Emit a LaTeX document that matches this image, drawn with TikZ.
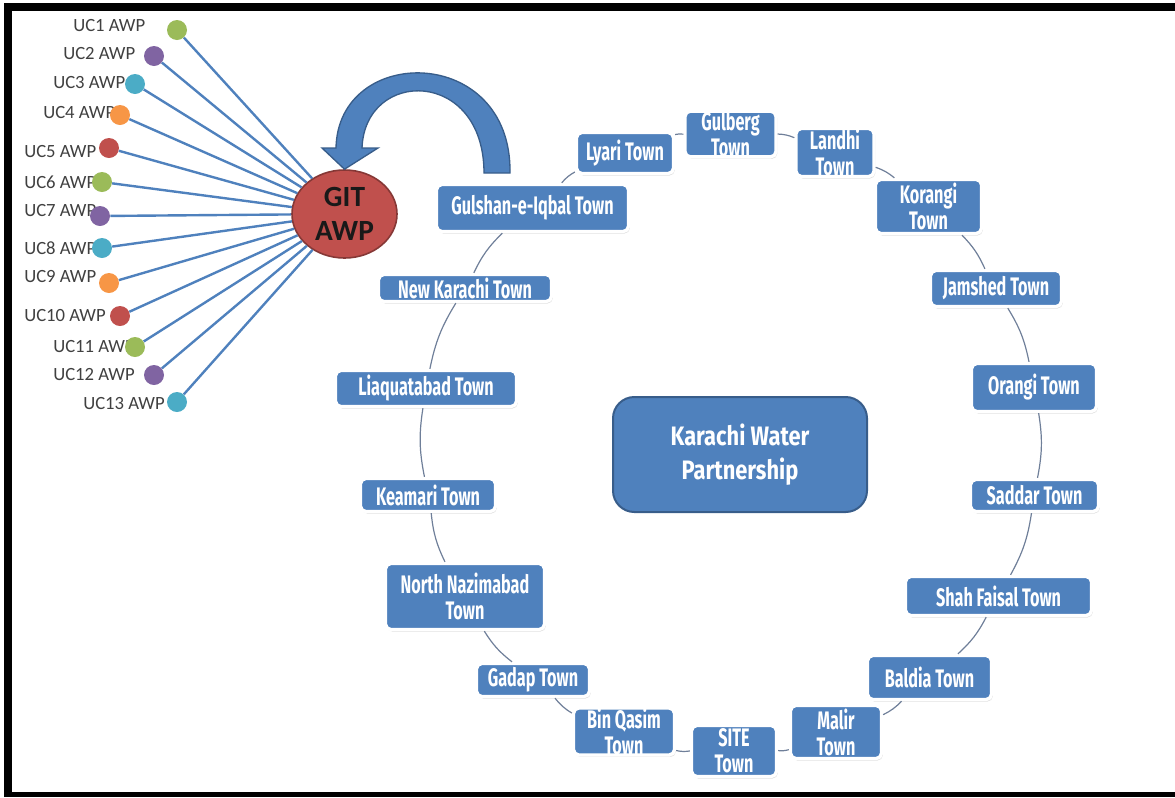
\documentclass[tikz,border=0pt]{standalone}
\usepackage{fontspec}
\setmainfont{Carlito}
\newfontfamily\townfont{Fira Sans}[FakeStretch=0.64]
\newfontfamily\hubfont{Fira Sans}[FakeStretch=0.82]
\usetikzlibrary{shapes.geometric,shadows}

\definecolor{kwblue}{HTML}{4F81BD}
\definecolor{kwdark}{HTML}{385D8A}
\definecolor{ucgreen}{HTML}{9BBB59}
\definecolor{ucpurple}{HTML}{8064A2}
\definecolor{uccyan}{HTML}{4BACC6}
\definecolor{ucorange}{HTML}{F79646}
\definecolor{ucred}{HTML}{C0504D}
\definecolor{ringgray}{HTML}{6F7F99}

\tikzset{
  town/.style={rectangle, rounded corners=4pt, fill=kwblue, draw=white, line width=2.5pt,
    text=white, inner sep=0pt, align=center,
    font=\townfont\bfseries\fontsize{19}{19.5}\selectfont,
    drop shadow={opacity=0.25, shadow xshift=1pt, shadow yshift=-1.5pt}},
  boxsize/.style 2 args={minimum width=#1*0.75pt, minimum height=#2*0.75pt},
  ucdot/.style={circle, minimum size=15pt, inner sep=0pt},
  uclabel/.style={anchor=west, inner sep=0pt, text=black!75, font=\fontsize{14}{16}\selectfont},
  spoke/.style={draw=kwblue, line width=1.8pt},
  ringline/.style={draw=ringgray, line width=0.9pt},
}

\begin{document}
\begin{tikzpicture}[x=0.75pt, y=-0.75pt]
		\useasboundingbox (0,0) rectangle (1175,797);

		% 枠
		\fill[black] (4,3) rectangle (1175,11);
		\fill[black] (4,3) rectangle (12,797);
		\fill[black] (4,792) rectangle (1175,797);

		% 町
		\node[town, boxsize={91}{45}] (gulberg) at (730.5,134) {Gulberg\\Town};
		\node[town, boxsize={78}{48}] (landhi) at (835,152.5) {Landhi\\Town};
		\node[town, boxsize={106}{54}] (korangi) at (928.5,206.5) {Korangi\\Town};
		\node[town, boxsize={131}{36}] (jamshed) at (996,288.5) {Jamshed Town};
		\node[town, boxsize={125}{48}] (orangi) at (1034,387.5) {Orangi Town};
		\node[town, boxsize={128}{32}] (saddar) at (1034.5,495.5) {Saddar Town};
		\node[town, boxsize={186}{39}] (shahfaisal) at (998.5,596) {Shah Faisal Town};
		\node[town, boxsize={124}{44}] (baldia) at (929.5,677.5) {Baldia Town};
		\node[town, boxsize={91}{53}] (malir) at (836,732) {Malir\\Town};
		\node[town, boxsize={85}{51}] (site) at (734,751) {SITE\\Town};
		\node[town, boxsize={101}{44}] (binqasim) at (624,731.5) {Bin Qasim\\Town};
		\node[town, boxsize={113}{33}] (gadap) at (533,680) {Gadap Town};
		\node[town, boxsize={159}{66}] (northnazimabad) at (465,596.5) {North Nazimabad\\Town};
		\node[town, boxsize={135}{33}] (keamari) at (428,495) {Keamari Town};
		\node[town, boxsize={181}{36}] (liaquatabad) at (426,388.5) {Liaquatabad Town};
		\node[town, boxsize={173}{27}] (newkarachi) at (465,288) {New Karachi Town};
		\node[town, boxsize={192}{47}] (gulshan) at (532.5,208) {Gulshan-e-Iqbal Town};
		\node[town, boxsize={97}{41}] (lyari) at (625,153) {Lyari Town};

		\draw[ringline] (gulberg) to[bend left=10] (landhi);
		\draw[ringline] (landhi) to[bend left=10] (korangi);
		\draw[ringline] (korangi) to[bend left=10] (jamshed);
		\draw[ringline] (jamshed) to[bend left=10] (orangi);
		\draw[ringline] (orangi) to[bend left=10] (saddar);
		\draw[ringline] (saddar) to[bend left=10] (shahfaisal);
		\draw[ringline] (shahfaisal) to[bend left=10] (baldia);
		\draw[ringline] (baldia) to[bend left=10] (malir);
		\draw[ringline] (malir) to[bend left=10] (site);
		\draw[ringline] (site) to[bend left=10] (binqasim);
		\draw[ringline] (binqasim) to[bend left=10] (gadap);
		\draw[ringline] (gadap) to[bend left=10] (northnazimabad);
		\draw[ringline] (northnazimabad) to[bend left=10] (keamari);
		\draw[ringline] (keamari) to[bend left=10] (liaquatabad);
		\draw[ringline] (liaquatabad) to[bend left=10] (newkarachi);
		\draw[ringline] (newkarachi) to[bend left=10] (gulshan);
		\draw[ringline] (gulshan) to[bend left=10] (lyari);
		\draw[ringline] (lyari) to[bend left=10] (gulberg);

		% 中央
		\node[draw=kwdark, fill=kwblue, line width=1.5pt, rounded corners=16pt,
			boxsize={254}{115}, text=white, align=center,
			font=\hubfont\bfseries\fontsize{20}{25}\selectfont] (kwp) at (740,454.5) {Karachi Water\\Partnership};

		% UC の名前
		\node[uclabel] (uc1l) at (73,26) {UC1 AWP};
		\node[uclabel] (uc2l) at (63,54) {UC2 AWP};
		\node[uclabel] (uc3l) at (53,83) {UC3 AWP};
		\node[uclabel] (uc4l) at (43,113) {UC4 AWP};
		\node[uclabel] (uc5l) at (24,152) {UC5 AWP};
		\node[uclabel] (uc6l) at (24,182) {UC6 AWP};
		\node[uclabel] (uc7l) at (24,211) {UC7 AWP};
		\node[uclabel] (uc8l) at (24,248) {UC8 AWP};
		\node[uclabel] (uc9l) at (24,277) {UC9 AWP};
		\node[uclabel] (uc10l) at (24,316) {UC10 AWP};
		\node[uclabel] (uc11l) at (53,347) {UC11 AWP};
		\node[uclabel] (uc12l) at (53,375) {UC12 AWP};
		\node[uclabel] (uc13l) at (83,404) {UC13 AWP};

		% GIT と点
		\node[ellipse, fill=ucred, draw=ucred!70!black, line width=1.2pt, boxsize={105}{88},
			inner sep=0pt, align=center, text=black!90,
			font=\bfseries\fontsize{22}{25}\selectfont] (git) at (344.5,214) {GIT\\AWP};

		\node[ucdot, fill=ucgreen] (uc1) at (177,30) {};
		\node[ucdot, fill=ucpurple] (uc2) at (154,56) {};
		\node[ucdot, fill=uccyan] (uc3) at (135,84) {};
		\node[ucdot, fill=ucorange] (uc4) at (120,115) {};
		\node[ucdot, fill=ucred] (uc5) at (109,148) {};
		\node[ucdot, fill=ucgreen] (uc6) at (102,182) {};
		\node[ucdot, fill=ucpurple] (uc7) at (100,216) {};
		\node[ucdot, fill=uccyan] (uc8) at (102,248) {};
		\node[ucdot, fill=ucorange] (uc9) at (109,283) {};
		\node[ucdot, fill=ucred] (uc10) at (120,316) {};
		\node[ucdot, fill=ucgreen] (uc11) at (135,347) {};
		\node[ucdot, fill=ucpurple] (uc12) at (154,375) {};
		\node[ucdot, fill=uccyan] (uc13) at (177,402) {};

		\draw[spoke] (uc1) -- (git);
		\draw[spoke] (uc2) -- (git);
		\draw[spoke] (uc3) -- (git);
		\draw[spoke] (uc4) -- (git);
		\draw[spoke] (uc5) -- (git);
		\draw[spoke] (uc6) -- (git);
		\draw[spoke] (uc7) -- (git);
		\draw[spoke] (uc8) -- (git);
		\draw[spoke] (uc9) -- (git);
		\draw[spoke] (uc10) -- (git);
		\draw[spoke] (uc11) -- (git);
		\draw[spoke] (uc12) -- (git);
		\draw[spoke] (uc13) -- (git);

		% 曲がった矢印
		\filldraw[fill=kwblue, draw=kwdark, line width=1pt]
			(510,173) .. controls (512,44) and (338,44) .. (336,148) -- (322,148)
			-- (git.north) -- (378,148) -- (362,148)
			.. controls (365,68) and (484,68) .. (484,173) -- cycle;
	\end{tikzpicture}
\end{document}
